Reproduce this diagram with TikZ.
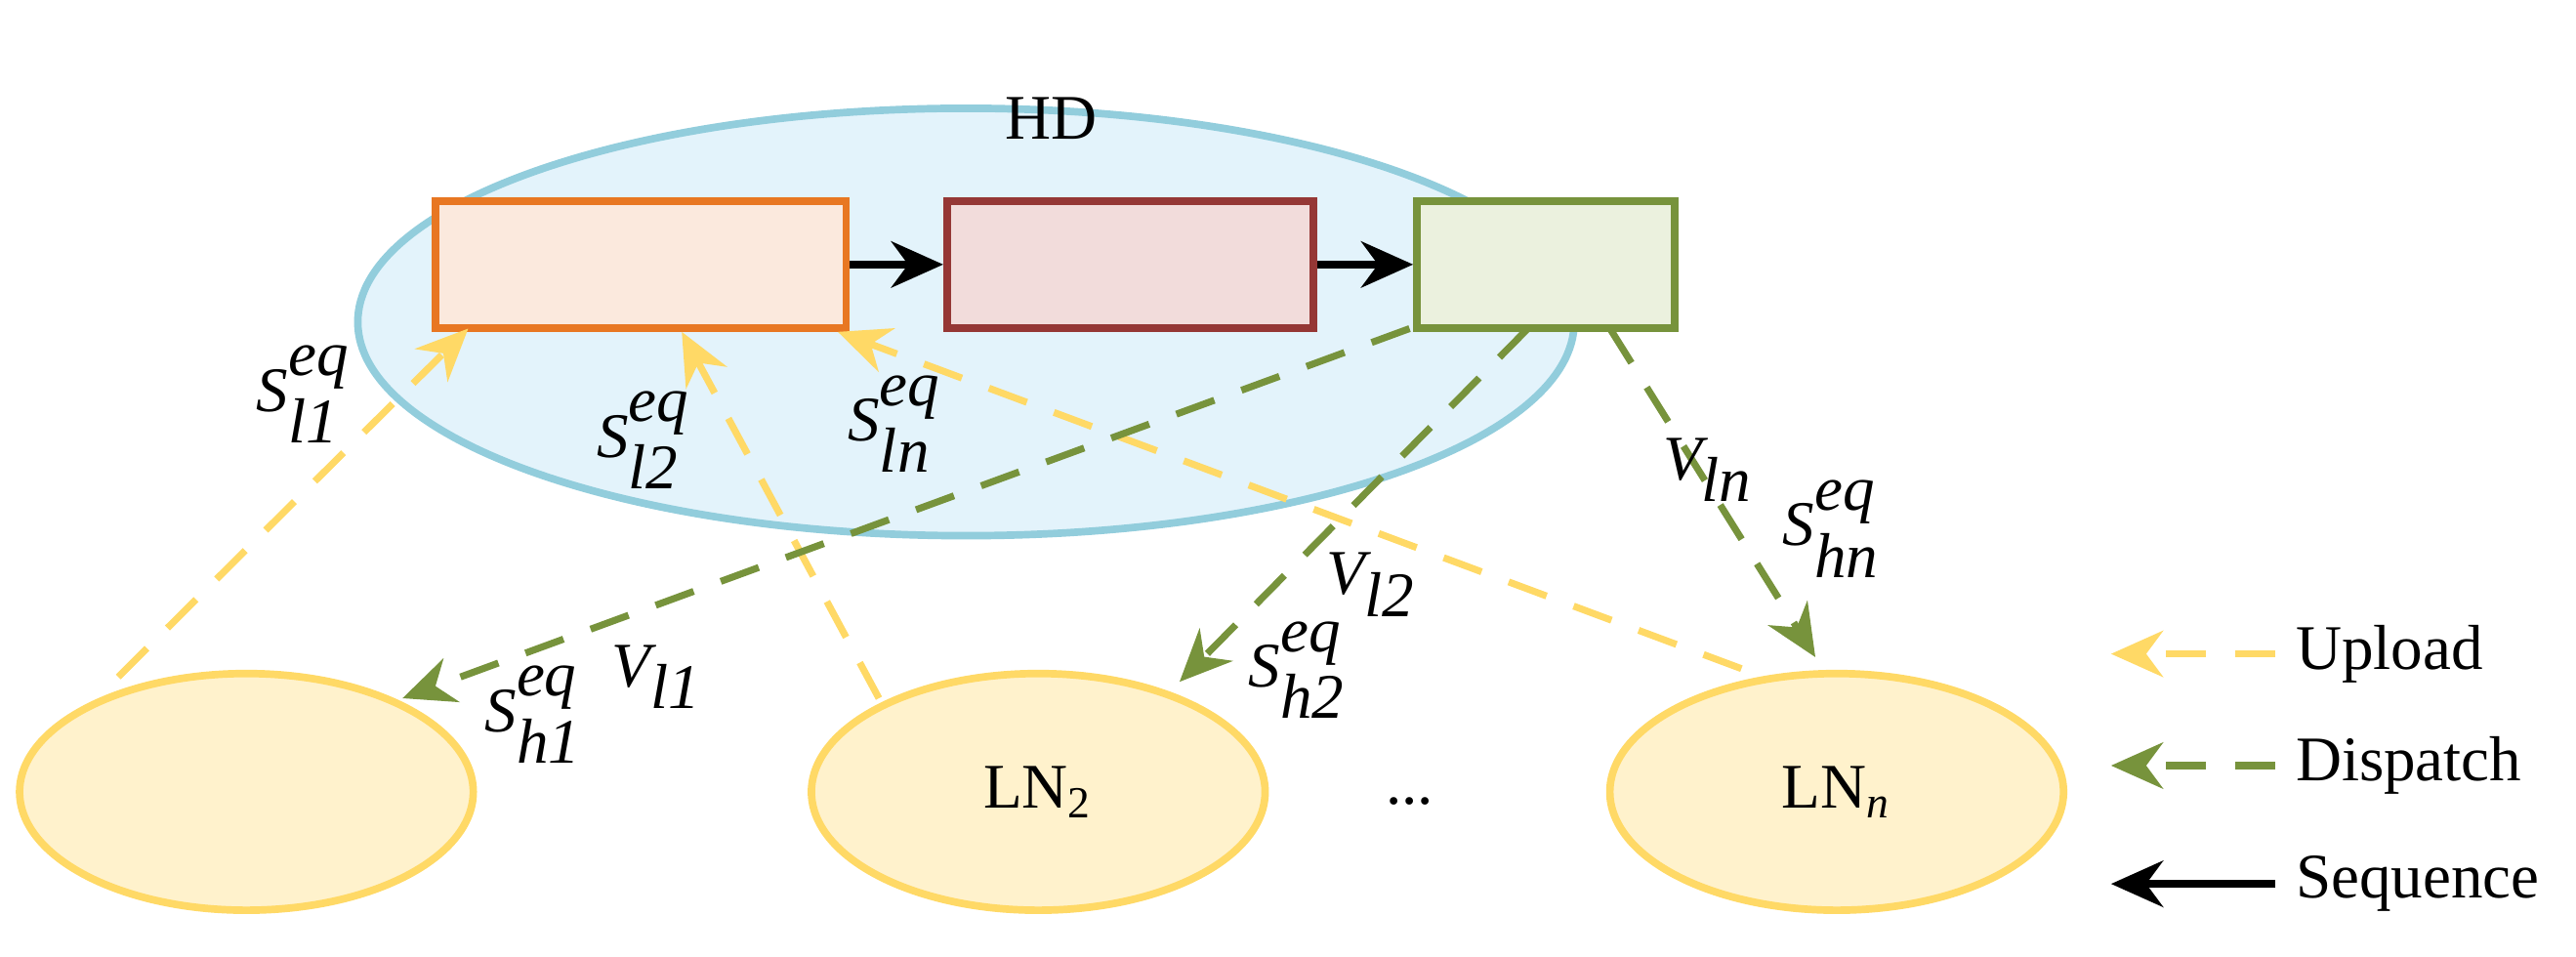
\documentclass[tikz,border=0pt]{standalone}
\usepackage{fontspec}
\setmainfont{Liberation Serif}
\usetikzlibrary{arrows.meta}
\definecolor{hdfill}{HTML}{E3F3FB}\definecolor{hdline}{HTML}{92CDDC}
\definecolor{orl}{HTML}{E87722}\definecolor{orf}{HTML}{FBE9DD}
\definecolor{rdl}{HTML}{953735}\definecolor{rdf}{HTML}{F2DCDB}
\definecolor{grl}{HTML}{77933C}\definecolor{grf}{HTML}{EBF1DE}
\definecolor{lnf}{HTML}{FFF2CC}\definecolor{lnl}{HTML}{FFD966}
\definecolor{upc}{HTML}{FFD966}
\begin{document}
\begin{tikzpicture}[x=0.01cm,y=-0.01cm,font=\fontsize{11}{13}\selectfont,
 box/.style={draw,line width=1.3pt,minimum height=0.77cm,inner sep=0},
 ln/.style={ellipse,draw=lnl,fill=lnf,line width=1.3pt,minimum width=2.76cm,minimum height=1.44cm},
 up/.style={draw=upc,dashed,dash pattern=on 7pt off 5pt,line width=1.2pt,-{Stealth[length=9pt,width=8pt]}},
 dp/.style={draw=grl,dashed,dash pattern=on 7pt off 5pt,line width=1.2pt,-{Stealth[length=9pt,width=8pt]}},
 sq/.style={draw=black,line width=1.3pt,-{Stealth[length=9pt,width=8pt]}},
 lab/.style={inner sep=0}]
\usetikzlibrary{shapes.geometric}
\useasboundingbox (0,0) rectangle (1568,582);
\node[ellipse,draw=hdline,fill=hdfill,line width=1.3pt,minimum width=7.4cm,minimum height=2.6cm] (hd) at (588,196) {};
\node (hdl) at (640,72) {HD};
\node[box,draw=orl,fill=orf,minimum width=2.5cm] (b1) at (390,161) {};
\node[box,draw=rdl,fill=rdf,minimum width=2.23cm] (b2) at (688,161) {};
\node[box,draw=grl,fill=grf,minimum width=1.57cm] (b3) at (941,161) {};
\draw[sq] (b1) -- (b2);
\draw[sq] (b2) -- (b3);
\node[ln] (l1) at (150,482) {};
\node[ln] (l2) at (632,482) {LN\textsubscript{2}};
\node[ln] (ln) at (1118,482) {LN\textsubscript{\textit{n}}};
\node (dots) at (858,488) {...};
\coordinate (u1s) at (72,412); \coordinate (u1e) at (285,200);
\coordinate (u2s) at (535,425); \coordinate (u2e) at (415,202);
\coordinate (u3s) at (1060,407); \coordinate (u3e) at (510,202);
\draw[up] (u1s) -- (u1e);
\draw[up] (u2s) -- (u2e);
\draw[up] (u3s) -- (u3e);
\coordinate (d1s) at (858,200); \coordinate (d1e) at (245,425);
\coordinate (d2s) at (930,200); \coordinate (d2e) at (718,415);
\coordinate (d3s) at (980,200); \coordinate (d3e) at (1105,400);
\draw[dp] (d1s) -- (d1e);
\draw[dp] (d2s) -- (d2e);
\draw[dp] (d3s) -- (d3e);
\node[lab] (s1) at (185,240) {$\textit{S}_{\textit{l1}}^{\textit{eq}}$};
\node[lab] (s2) at (392,268) {$\textit{S}_{\textit{l2}}^{\textit{eq}}$};
\node[lab] (s3) at (545,258) {$\textit{S}_{\textit{ln}}^{\textit{eq}}$};
\node[lab] (v3) at (1040,286) {$\textit{V}_{\textit{ln}}$};
\node[lab] (h3) at (1115,322) {$\textit{S}_{\textit{hn}}^{\textit{eq}}$};
\node[lab] (v2) at (835,356) {$\textit{V}_{\textit{l2}}$};
\node[lab] (h2) at (790,408) {$\textit{S}_{\textit{h2}}^{\textit{eq}}$};
\node[lab] (h1) at (325,435) {$\textit{S}_{\textit{h1}}^{\textit{eq}}$};
\node[lab] (v1) at (400,412) {$\textit{V}_{\textit{l1}}$};
\node[anchor=west] (t1) at (1385,398) {Upload};
\node[anchor=west] (t2) at (1385,466) {Dispatch};
\node[anchor=west] (t3) at (1385,538) {Sequence};
\coordinate (e1) at (1285,398); \coordinate (e2) at (1285,466); \coordinate (e3) at (1285,538);
\draw[up] (t1.west) -- (e1);
\draw[dp] (t2.west) -- (e2);
\draw[sq] (t3.west) -- (e3);
\end{tikzpicture}
\end{document}
